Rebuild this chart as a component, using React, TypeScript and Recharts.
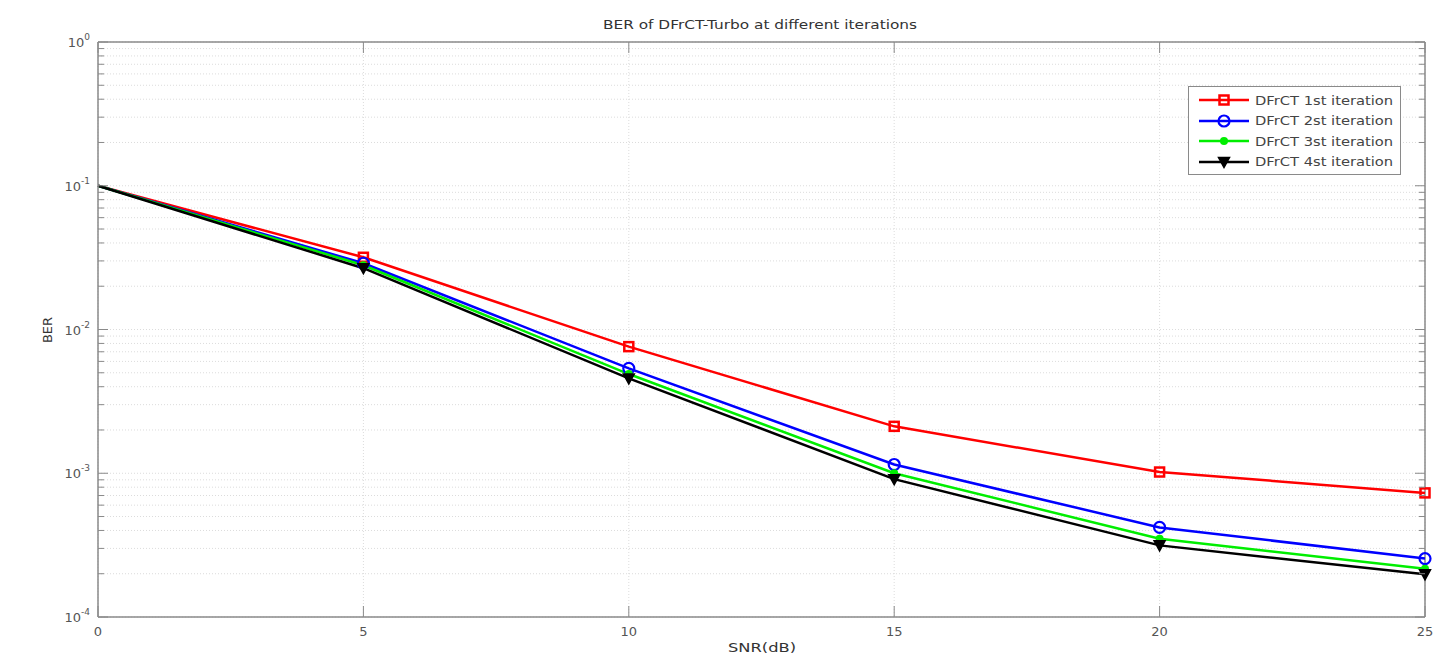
import React from "react";
import {
  LineChart,
  Line,
  XAxis,
  YAxis,
  CartesianGrid,
  ReferenceLine,
} from "recharts";

// SNR points (dB)
const snr = [0, 5, 10, 15, 20, 25];

// BER
const iter1 = [0.1, 0.0318, 0.0076, 0.00212, 0.00102, 0.00073];
const iter2 = [0.1, 0.0289, 0.00537, 0.00115, 0.00042, 0.000255];
const iter3 = [0.1, 0.028, 0.0049, 0.001, 0.00035, 0.000217];
const iter4 = [0.1, 0.0267, 0.00457, 0.00091, 0.000315, 0.000198];

const xTicks = [0, 5, 10, 15, 20, 25];
const decades = [1e-4, 1e-3, 1e-2, 1e-1, 1];
const decadeLabels = ["-4", "-3", "-2", "-1", "0"];
const minorMult = [2, 3, 4, 5, 6, 7, 8, 9];

const yTicks: number[] = [];
decades.forEach((d, i) => {
  yTicks.push(d);
  if (i < decades.length - 1) minorMult.forEach((m) => yTicks.push(+(d * m).toPrecision(3)));
});

const data = snr.map((s, i) => ({
  snr: s,
  it1: iter1[i],
  it2: iter2[i],
  it3: iter3[i],
  it4: iter4[i],
}));

const W = 1449;
const H = 655;
const LEFT = 98;
const RIGHT = 1425;
const TOP = 42;
const BOTTOM = 617;
const AXIS = "#8a8a8a";
const LABEL = "#555";
const FONT = "'DejaVu Sans', 'Liberation Sans', sans-serif";

const series = [
  { key: "it1", name: "DFrCT 1st iteration", color: "#ff0000", marker: "square" },
  { key: "it2", name: "DFrCT 2st iteration", color: "#0000ff", marker: "circle" },
  { key: "it3", name: "DFrCT 3st iteration", color: "#00ee00", marker: "dot" },
  { key: "it4", name: "DFrCT 4st iteration", color: "#000000", marker: "tri" },
];

function Marker({ cx, cy, kind, color }: any) {
  if (cx == null || cy == null) return null;
  if (kind === "square")
    return <rect x={cx - 4.5} y={cy - 4.5} width={9} height={9} fill="none" stroke={color} strokeWidth={2.5} />;
  if (kind === "circle")
    return <circle cx={cx} cy={cy} r={5.5} fill="none" stroke={color} strokeWidth={2.2} />;
  if (kind === "dot") return <circle cx={cx} cy={cy} r={4} fill={color} />;
  return (
    <polygon
      points={`${cx - 5.5},${cy - 4.5} ${cx + 5.5},${cy - 4.5} ${cx},${cy + 5.5}`}
      fill={color}
      stroke={color}
      strokeWidth={1.5}
    />
  );
}

function YTick({ y, payload }: any) {
  const v = payload.value;
  const di = decades.findIndex((d) => Math.abs(d - v) / d < 1e-6);
  const major = di >= 0;
  const len = major ? 10 : 6;
  return (
    <g>
      <line x1={LEFT} x2={LEFT + len} y1={y} y2={y} stroke={AXIS} strokeWidth={1} />
      <line x1={RIGHT} x2={RIGHT - len} y1={y} y2={y} stroke={AXIS} strokeWidth={1} />
      {major && (
        <text x={90} y={y + 5} textAnchor="end" fontSize={13} fill={LABEL} fontFamily={FONT}>
          <tspan>10</tspan>
          <tspan dy={-7} fontSize={9}>
            {decadeLabels[di]}
          </tspan>
        </text>
      )}
    </g>
  );
}

function XTick({ x, payload }: any) {
  return (
    <g>
      <line x1={x} x2={x} y1={BOTTOM} y2={BOTTOM - 11} stroke={AXIS} strokeWidth={1} />
      <line x1={x} x2={x} y1={TOP} y2={TOP + 11} stroke={AXIS} strokeWidth={1} />
      <text x={x} y={BOTTOM + 19} textAnchor="middle" fontSize={13} fill={LABEL} fontFamily={FONT}>
        {payload.value}
      </text>
    </g>
  );
}

function LegendBox() {
  return (
    <div
      style={{
        position: "absolute",
        left: 1188,
        top: 86,
        width: 213,
        height: 89,
        border: "1px solid #8a8a8a",
        background: "#fff",
        boxSizing: "border-box",
        paddingTop: 3,
      }}
    >
      {series.map((s) => (
        <div key={s.key} style={{ display: "flex", alignItems: "center", height: 20.5 }}>
          <svg width={62} height={20} style={{ flex: "none" }}>
            <line x1={10} x2={60} y1={10} y2={10} stroke={s.color} strokeWidth={2.5} />
            <Marker cx={35} cy={10} kind={s.marker} color={s.color} />
          </svg>
          <span
            style={{
              fontFamily: FONT,
              fontSize: 13,
              color: "#444",
              marginLeft: 4,
              whiteSpace: "nowrap",
              display: "inline-block",
              transform: "scaleX(1.13)",
              transformOrigin: "left center",
            }}
          >
            {s.name}
          </span>
        </div>
      ))}
    </div>
  );
}

export default function App() {
  return (
    <div style={{ position: "absolute", left: 0, top: 0, width: W, height: H, background: "#fff" }}>
      <LineChart
        width={W}
        height={H}
        data={data}
        margin={{ top: TOP, right: W - RIGHT, bottom: 0, left: 0 }}
      >
        <CartesianGrid stroke="#dcdcdc" strokeDasharray="1 2" />
        <XAxis
          dataKey="snr"
          type="number"
          domain={[0, 25]}
          ticks={xTicks}
          interval={0}
          height={H - BOTTOM}
          axisLine={{ stroke: AXIS, strokeWidth: 1.5 }}
          tickLine={false}
          tick={<XTick />}
        />
        <YAxis
          scale="log"
          domain={[1e-4, 1]}
          allowDataOverflow
          ticks={yTicks}
          interval={0}
          width={LEFT}
          axisLine={{ stroke: AXIS, strokeWidth: 1.5 }}
          tickLine={false}
          tick={<YTick />}
        />
        <ReferenceLine y={1} stroke={AXIS} strokeWidth={1.5} />
        <ReferenceLine x={25} stroke={AXIS} strokeWidth={1.5} />
        {series.map((s) => (
          <Line
            key={s.key}
            dataKey={s.key}
            name={s.name}
            stroke={s.color}
            strokeWidth={2.5}
            isAnimationActive={false}
            dot={(p: any) =>
              p.index === 0 ? (
                <g key={`${s.key}-${p.index}`} />
              ) : (
                <Marker key={`${s.key}-${p.index}`} cx={p.cx} cy={p.cy} kind={s.marker} color={s.color} />
              )
            }
            activeDot={false}
          />
        ))}
        <text
          x={760}
          y={29}
          textAnchor="middle"
          fontSize={13}
          fill="#333"
          fontFamily={FONT}
          textLength={314}
          lengthAdjust="spacingAndGlyphs"
        >
          BER of DFrCT-Turbo at different iterations
        </text>
        <text
          x={52}
          y={330}
          textAnchor="middle"
          fontSize={13}
          fill="#333"
          fontFamily={FONT}
          transform="rotate(-90 52 330)"
        >
          BER
        </text>
        <text
          x={762}
          y={652}
          textAnchor="middle"
          fontSize={13}
          fill="#333"
          fontFamily={FONT}
          textLength={68}
          lengthAdjust="spacingAndGlyphs"
        >
          SNR(dB)
        </text>
      </LineChart>
      <LegendBox />
    </div>
  );
}
